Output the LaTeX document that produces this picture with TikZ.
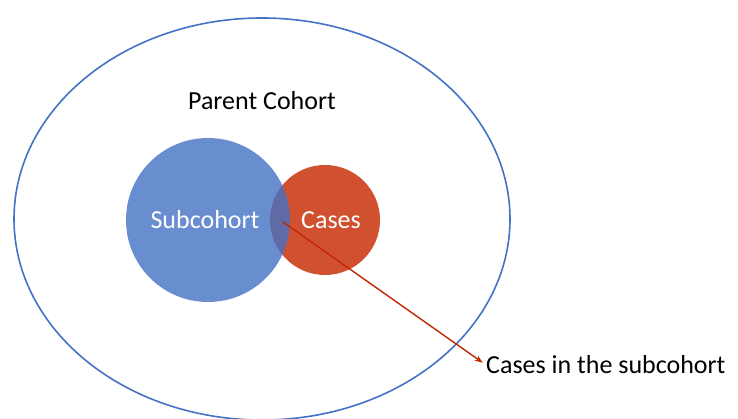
\documentclass[tikz,border=0pt]{standalone}
\usepackage{fontspec}
\setmainfont{Carlito}
\usetikzlibrary{shapes.geometric, arrows.meta}

\definecolor{cohortblue}{RGB}{68,114,196}
\definecolor{casered}{RGB}{208,80,48}
\definecolor{arrowred}{RGB}{196,38,0}

\begin{document}
\begin{tikzpicture}[x=1pt,y=1pt,every node/.style={inner sep=0pt,font=\fontsize{26}{31}\selectfont},
  venn/.style={draw=none,shape=circle,text=white}]
  \useasboundingbox (0,0) rectangle (738,419);
  \path (262,200) node[draw=cohortblue,line width=1.6pt,shape=ellipse,minimum width=496pt,minimum height=402pt] (parent) {}
  (262,318) node (ptitle) {Parent Cohort}
  (325,199) node[venn,fill=casered,minimum size=110pt,label={[text=white,xshift=6pt]center:Cases}] (cases) {}
  (208,199) node[venn,fill=cohortblue,fill opacity=0.8,text opacity=1,minimum size=164pt] (sub) {\hspace*{-6pt}Subcohort}
  (486,54) node[anchor=west] (inlabel) {Cases in the subcohort};
  \coordinate (overlap) at (283,197);
  \draw[arrowred,line width=1.4pt,-{Stealth[length=8pt,width=6pt]},shorten >=4pt] (overlap) -- (inlabel.west);
\end{tikzpicture}
\end{document}
